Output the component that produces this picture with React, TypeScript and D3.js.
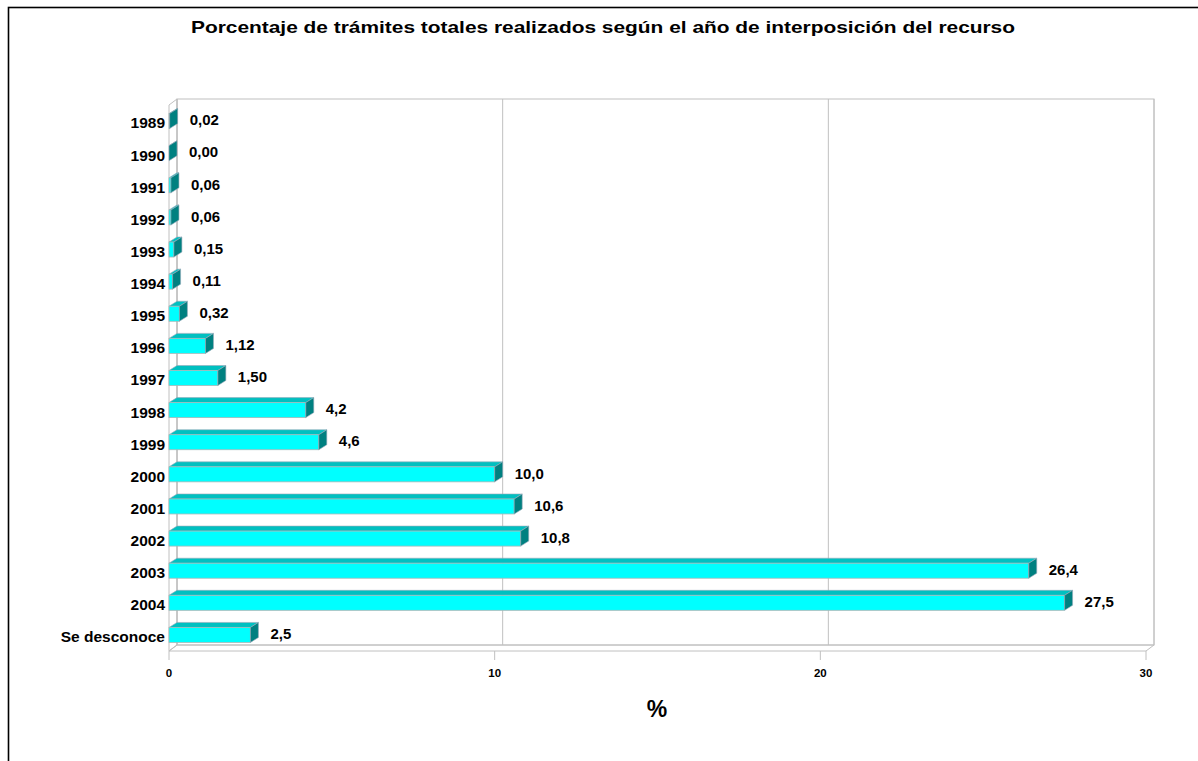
import React from 'react'
import { scaleLinear, scaleBand } from 'd3'

// años de interposición del recurso
const categories = [
  '1989', '1990', '1991', '1992', '1993', '1994', '1995', '1996', '1997',
  '1998', '1999', '2000', '2001', '2002', '2003', '2004', 'Se desconoce',
]
// porcentaje de trámites
const values = [
  0.02, 0.0, 0.06, 0.06, 0.15, 0.11, 0.32, 1.12, 1.5,
  4.2, 4.6, 10.0, 10.6, 10.8, 26.4, 27.5, 2.5,
]
// etiquetas tal como aparecen
const valueLabels = [
  '0,02', '0,00', '0,06', '0,06', '0,15', '0,11', '0,32', '1,12', '1,50',
  '4,2', '4,6', '10,0', '10,6', '10,8', '26,4', '27,5', '2,5',
]
const xTicks = [0, 10, 20, 30]

const title = 'Porcentaje de trámites totales realizados según el año de interposición del recurso'
const font = '"Liberation Sans", Arial, sans-serif'

const W = 1198
const H = 761
const left = 169
const right = 1146
const top = 105
const bottom = 651
const depthX = 8
const depthY = 6
const barDX = 8
const barDY = 5
const barH = 15

const grid = '#c0c0c0'

const App = () => {
  const x = scaleLinear().domain([0, 30]).range([left, right])
  const y = scaleBand().domain(categories).range([top, bottom])

  return (
    <svg width={W} height={H} style={{ position: 'absolute', left: 0, top: 0, background: '#fff' }}>
      <rect x={8.5} y={7.5} width={1400} height={1000} fill="#fff" stroke="#000" strokeWidth={1.6} />

      <text x={603} y={33} textAnchor="middle" fontFamily={font} fontWeight="bold" fontSize={17}
        textLength={824} lengthAdjust="spacingAndGlyphs">
        {title}
      </text>

      {/* paredes */}
      <g fill="none" stroke={grid} strokeWidth={1}>
        <rect x={left + depthX} y={top - depthY} width={right - left} height={bottom - top} />
        <polygon points={`${left},${top} ${left + depthX},${top - depthY} ${left + depthX},${bottom - depthY} ${left},${bottom}`} />
        <polygon points={`${left},${bottom} ${right},${bottom} ${right + depthX},${bottom - depthY} ${left + depthX},${bottom - depthY}`} />
        {xTicks.map(t => (
          <g key={t}>
            <line x1={x(t) + depthX} x2={x(t) + depthX} y1={top - depthY} y2={bottom - depthY} />
            <line x1={x(t)} x2={x(t)} y1={bottom} y2={bottom + 9} />
          </g>
        ))}
      </g>

      {xTicks.map(t => (
        <text key={t} x={x(t)} y={677} textAnchor="middle" fontFamily={font} fontWeight="bold" fontSize={11.5}>
          {t}
        </text>
      ))}

      <text x={657} y={717} textAnchor="middle" fontFamily={font} fontWeight="bold" fontSize={23}>%</text>

      {categories.map((c, i) => {
        const yc = (y(c) as number) + y.bandwidth() / 2
        const yt = yc - barH / 2
        const yb = yc + barH / 2
        const x0 = x(0)
        const xv = x(values[i])
        return (
          <g key={c}>
            <text x={165} y={yc + 2} dy="0.35em" textAnchor="end" fontFamily={font} fontWeight="bold" fontSize={15.5}>
              {c}
            </text>
            <polygon
              points={`${x0},${yt} ${x0 + barDX},${yt - barDY} ${xv + barDX},${yt - barDY} ${xv},${yt}`}
              fill="#00c0c0" stroke="#9ab" strokeWidth={0.6}
            />
            <rect x={x0} y={yt} width={xv - x0} height={barH} fill="#00ffff" stroke="#a8b8b8" strokeWidth={0.8} />
            <polygon
              points={`${xv},${yt} ${xv + barDX},${yt - barDY} ${xv + barDX},${yb - barDY} ${xv},${yb}`}
              fill="#008080" stroke="#9ab" strokeWidth={0.6}
            />
            <text x={xv + barDX + 12} y={yc - 1} dy="0.35em" fontFamily={font} fontWeight="bold" fontSize={15}>
              {valueLabels[i]}
            </text>
          </g>
        )
      })}
    </svg>
  )
}

export default App
